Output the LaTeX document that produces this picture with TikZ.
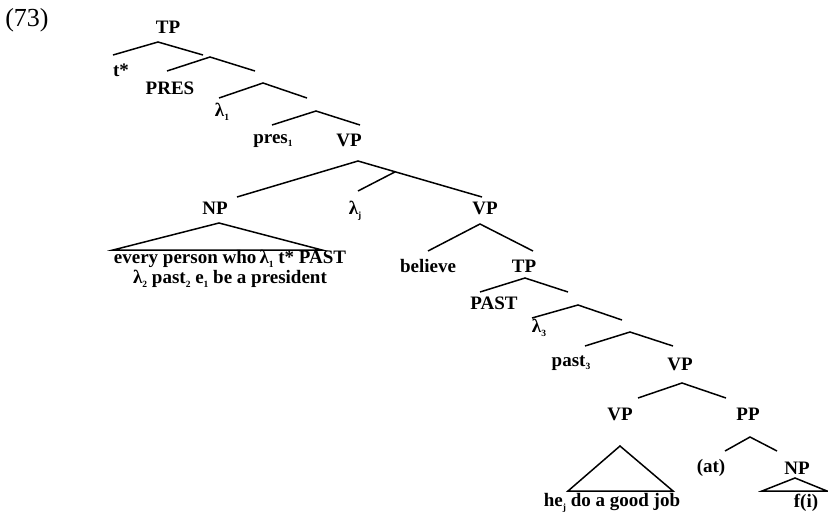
\documentclass[tikz,border=0pt]{standalone}
\usepackage{fontspec}
\setmainfont{Liberation Serif}
\usetikzlibrary{calc}
\newcommand\sbx[1]{\raisebox{-0.4ex}{\fontsize{9.5}{9.5}\selectfont #1}}
\begin{document}
\begin{tikzpicture}[x=1pt,y=-1pt,
  lab/.style={inner sep=0pt,font=\fontsize{19}{16}\selectfont\bfseries},
  br/.style={line width=1.5pt,line join=miter}]
\useasboundingbox (0,0) rectangle (828,520);
% example number
\node[inner sep=0pt,font=\fontsize{26}{26}\selectfont] (num) at (27,20) {(73)};
% coordinates of branching points
\coordinate (a0) at (158,42);  \coordinate (a0l) at (113,55);  \coordinate (a0r) at (203,55);
\coordinate (a1) at (210,57);  \coordinate (a1l) at (167,71);  \coordinate (a1r) at (255,71);
\coordinate (a2) at (263,83);  \coordinate (a2l) at (219,98);  \coordinate (a2r) at (307,98);
\coordinate (a3) at (316,111); \coordinate (a3l) at (272,125); \coordinate (a3r) at (360,125);
\coordinate (a4) at (358,161); \coordinate (a4l) at (237,197); \coordinate (a4r) at (482,197);
\coordinate (a4m) at ($(a4)!0.3!(a4r)$);
\coordinate (lj) at (358,191);
\coordinate (np) at (219,223); \coordinate (npl) at (113,250); \coordinate (npr) at (322,250);
\coordinate (a5) at (480,224); \coordinate (a5l) at (428,251); \coordinate (a5r) at (533,251);
\coordinate (a6) at (525,278); \coordinate (a6l) at (480,292); \coordinate (a6r) at (568,292);
\coordinate (a7) at (578,305); \coordinate (a7l) at (532,318); \coordinate (a7r) at (622,320);
\coordinate (a8) at (630,332); \coordinate (a8l) at (585,346); \coordinate (a8r) at (673,346);
\coordinate (a9) at (682,383); \coordinate (a9l) at (638,398); \coordinate (a9r) at (726,398);
\coordinate (vt) at (620,446); \coordinate (vtl) at (568,491); \coordinate (vtr) at (673,491);
\coordinate (pp) at (750,437); \coordinate (ppl) at (725,451); \coordinate (ppr) at (777,451);
\coordinate (nt) at (795,478); \coordinate (ntl) at (762,491); \coordinate (ntr) at (827,491);
% labels
\node[lab] (tp) at (168,27) {TP};
\node[lab] (tstar) at (121,70) {t*};
\node[lab] (pres) at (170,88) {PRES};
\node[lab] (lam1) at (222,112) {λ\sbx{1}};
\node[lab] (pres1) at (273,141) {pres\sbx{1}};
\node[lab] (vp1) at (349,140) {VP};
\node[lab] (np1) at (215,208) {NP};
\node[lab] (lamj) at (355,211) {λ\sbx{j}};
\node[lab] (vp2) at (485,208) {VP};
\node[lab] (nptext1) at (230,259) {every person who\,λ\sbx{1} t* PAST};
\node[lab] (nptext2) at (230,279) {λ\sbx{2} past\sbx{2} e\sbx{1} be a president};
\node[lab] (bel) at (428,266) {believe};
\node[lab] (tp2) at (524,266) {TP};
\node[lab] (past) at (494,303) {PAST};
\node[lab] (lam3) at (539,328) {λ\sbx{3}};
\node[lab] (past3) at (571,363) {past\sbx{3}};
\node[lab] (vp3) at (680,364) {VP};
\node[lab] (vp4) at (620,414) {VP};
\node[lab] (pp1) at (748,414) {PP};
\node[lab] (hej) at (612,503) {he\sbx{j} do a good job};
\node[lab] (at) at (711,468) {(at)};
\node[lab] (np2) at (797,468) {NP};
\node[lab] (fi) at (806,503) {f(i)};
% branches
\draw[br] (a0l) -- (a0) -- (a0r);
\draw[br] (a1l) -- (a1) -- (a1r);
\draw[br] (a2l) -- (a2) -- (a2r);
\draw[br] (a3l) -- (a3) -- (a3r);
\draw[br] (a4l) -- (a4) -- (a4r);
\draw[br] (a4m) -- (lj);
\draw[br] (npl) -- (np) -- (npr) -- cycle;
\draw[br] (a5l) -- (a5) -- (a5r);
\draw[br] (a6l) -- (a6) -- (a6r);
\draw[br] (a7l) -- (a7) -- (a7r);
\draw[br] (a8l) -- (a8) -- (a8r);
\draw[br] (a9l) -- (a9) -- (a9r);
\draw[br] (vtl) -- (vt) -- (vtr) -- cycle;
\draw[br] (ppl) -- (pp) -- (ppr);
\draw[br] (ntl) -- (nt) -- (ntr) -- cycle;
\end{tikzpicture}
\end{document}
